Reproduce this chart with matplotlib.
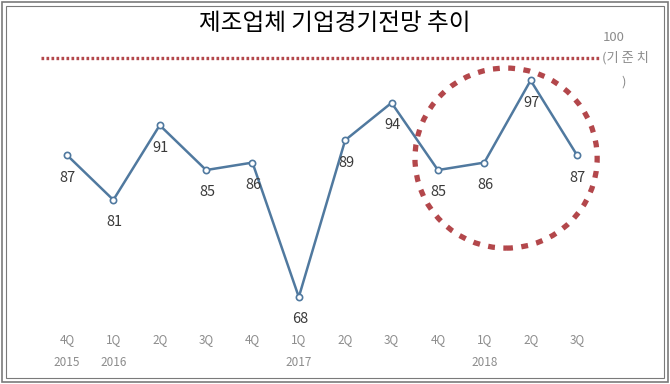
#!/usr/bin/env python
"""
Manufacturing BSI trend chart
"""
import matplotlib
matplotlib.use('Agg')
import matplotlib.pyplot as plt
from matplotlib.patches import Ellipse, Rectangle
import matplotlib.transforms as mtransforms

plt.rcParams['font.family'] = ['Noto Sans CJK KR', 'DejaVu Sans']

# data
quarters = ['4Q', '1Q', '2Q', '3Q', '4Q', '1Q', '2Q', '3Q', '4Q', '1Q', '2Q', '3Q']
values = [87, 81, 91, 85, 86, 68, 89, 94, 85, 86, 97, 87]
years = ['2015', '2016', '2017', '2018']
year_pos = [0, 1, 5, 9]
baseline = 100
title = '제조업체 기업경기전망 추이'

blue = '#50799f'
red = '#b3474b'
gray = '#8c8c8c'

fig = plt.figure(figsize=(6.7, 3.84), dpi=100)
ax = fig.add_axes([0.0654, 0.0708, 0.8304, 0.856])
xs = list(range(len(values)))

ax.plot(xs, values, color=blue, lw=1.8, marker='o', ms=4.5,
        mfc='white', mec=blue, mew=1.2, zorder=3)

ax.plot([-0.55, 11.5], [baseline, baseline], color=red, lw=2.4,
        ls=(0, (0.8, 0.7)), solid_capstyle='butt', clip_on=False)

for x, v in zip(xs, values):
    ax.text(x + 0.02, v - 3.0, str(v), ha='center', va='center',
            fontsize=10.5, color='#3a3a3a')

ax.text(11.8, 102.8, '100', ha='center', va='center', fontsize=9.5, color=gray)
ax.text(11.53, 100, '(기 준 치', ha='left', va='center', fontsize=9.5, color=gray)
ax.text(12.0, 96.8, ')', ha='center', va='center', fontsize=9.5, color=gray)

ell = Ellipse((9.47, 86.6), 3.93, 24.1, fill=False, ec=red, lw=3.8,
              ls=(0, (1.3, 1.6)), clip_on=False)
ax.add_patch(ell)

trans = mtransforms.blended_transform_factory(ax.transData, fig.transFigure)
for x, q in zip(xs, quarters):
    ax.text(x, 1 - 340 / 384., q, transform=trans, ha='center', va='center',
            fontsize=8.5, color=gray)
for x, y in zip(year_pos, years):
    ax.text(x, 1 - 363 / 384., y, transform=trans, ha='center', va='center',
            fontsize=8.5, color=gray)

ax.set_xlim(-0.5, 11.5)
ax.set_ylim(60, 104)
ax.axis('off')

fig.text(0.5, 1 - 24 / 384., title, ha='center', va='center', fontsize=17,
         color='black')

# double frame
fig.patches.append(Rectangle((2 / 670., 2 / 384.), 666 / 670., 380 / 384.,
                             transform=fig.transFigure, fill=False,
                             ec='#7a7a7a', lw=1.2))
fig.patches.append(Rectangle((6 / 670., 6 / 384.), 658 / 670., 372 / 384.,
                             transform=fig.transFigure, fill=False,
                             ec='#7a7a7a', lw=0.8))

fig.savefig('out.png', dpi=100)
